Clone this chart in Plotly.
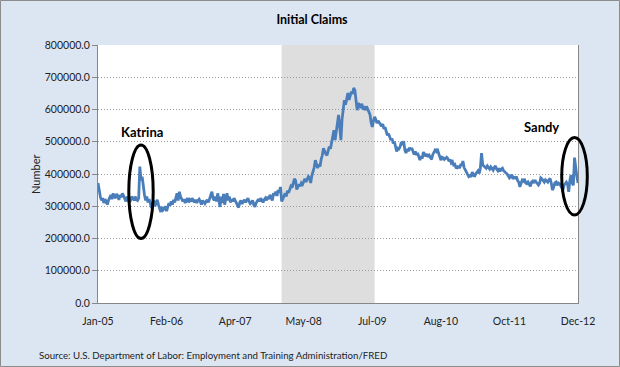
import pandas as pd
import plotly.graph_objects as go

# Weekly initial claims (thousands), week ending Saturday, Jan 1 2005 .. Dec 1 2012
claims_2005 = [372, 345, 330, 318, 325, 310, 322, 315, 305, 318, 328, 335, 322,
               340, 330, 325, 338, 332, 320, 335, 328, 340, 332, 325, 315, 330,
               322, 312, 318, 330, 325, 318, 330, 320, 318,
               325, 423, 380, 392, 360, 335, 318,
               330, 312, 322, 310, 295, 305, 318, 300, 310, 320, 305]
claims_2006 = [290, 282, 298, 288, 292, 300, 285, 298, 310, 302, 315, 305, 320,
               312, 325, 340, 318, 345, 330, 320, 315, 322, 310, 318, 325, 312,
               320, 315, 325, 318, 312, 320, 310, 318, 322, 315, 305, 318, 312,
               308, 315, 320, 312, 322, 330, 345, 325, 318, 330, 315, 340, 322]
claims_2007 = [298, 330, 310, 338, 305, 325, 340, 318, 330, 312, 322, 315, 325,
               318, 310, 305, 296, 312, 318, 308, 315, 320, 312, 318, 325, 315,
               308, 312, 318, 305, 298, 310, 318, 322, 315, 325, 318, 312, 320,
               325, 318, 330, 322, 335, 328, 318, 340, 335, 345, 332, 350, 342]
claims_2008 = [360, 315, 322, 335, 340, 330, 348, 342, 355, 362, 358, 370, 385,
               380, 352, 360, 368, 362, 372, 368, 378, 385, 375, 382, 392, 388,
               372, 395, 405, 420, 443, 425, 418, 430, 423, 445, 458, 480, 470,
               462, 458, 475, 485, 478, 500, 520, 536, 505, 530, 560, 583, 545]
claims_2009 = [505, 570, 600, 629, 615, 640, 651, 630, 645, 655, 648, 667, 660,
               615, 598, 620, 612, 605, 618, 600, 605, 598, 610, 600, 595, 585,
               560, 546, 565, 577, 570, 558, 565, 560, 552, 548, 555, 540, 545,
               530, 520, 525, 512, 505, 510, 495, 500, 488, 470, 480, 478, 485]
claims_2010 = [499, 490, 502, 475, 465, 478, 470, 482, 475, 481, 468, 460, 470,
               459, 465, 450, 443, 455, 448, 468, 460, 455, 462, 453, 458, 450,
               445, 460, 468, 474, 470, 478, 465, 455, 443, 452, 450, 445, 450,
               452, 448, 440, 445, 434, 438, 428, 430, 420, 419, 425, 418, 428]
claims_2011 = [428, 440, 420, 412, 405, 398, 392, 395, 391, 406, 398, 392, 400,
               405, 410, 402, 418, 465, 428, 425, 422, 418, 425, 420, 415, 422,
               418, 412, 420, 425, 415, 410, 418, 408, 415, 418, 410, 405, 403,
               400, 395, 388, 392, 398, 385, 390, 388, 392, 380, 375, 360, 375, 381]
claims_2012 = [378, 385, 372, 370, 375, 368, 362, 375, 378, 372, 381, 375, 368,
               366, 372, 388, 385, 380, 375, 382, 378, 375, 382, 386, 372, 350,
               358, 372, 375, 365, 372, 370, 365, 358, 350, 365, 372, 375, 368,
               345, 380, 397, 372, 365, 451, 415, 393, 372]

claims = [v * 1000 for v in (claims_2005 + claims_2006 + claims_2007 + claims_2008 +
                             claims_2009 + claims_2010 + claims_2011 + claims_2012)]
dates = pd.date_range("2005-01-01", periods=len(claims), freq="W-SAT")

tick_labels = ["Jan-05", "Feb-06", "Apr-07", "May-08", "Jul-09", "Aug-10", "Oct-11", "Dec-12"]
y_ticks = [0, 100000, 200000, 300000, 400000, 500000, 600000, 700000, 800000]
recession = ["2008-01-12", "2009-07-25"]
events = {"Katrina": ("2005-09-17", 200000, 490000, 21),
          "Sandy": ("2012-11-10", 273000, 513000, 22)}

W, H = 620, 367
ML, MR, MT, MB = 98, 42, 45, 64
PW, PH = W - ML - MR, H - MT - MB
start, end = dates[0], dates[-1]
span = end - start
tickvals = [start + span * i / (len(tick_labels) - 1) for i in range(len(tick_labels))]
YMAX = 800000

def xfrac(d):
    return (pd.Timestamp(d) - start) / span

FONT = "Lato"
fig = go.Figure()
fig.add_trace(go.Scatter(x=dates, y=claims, mode="lines",
                         line=dict(color="#4A7EBB", width=2.8), hoverinfo="skip"))

shapes = [
    dict(type="rect", xref="x", yref="paper", x0=recession[0], x1=recession[1],
         y0=0, y1=1, fillcolor="#DEDEDE", line=dict(width=0), layer="below"),
    dict(type="rect", xref="paper", yref="paper",
         x0=(0.5 - ML) / PW, x1=(W - 0.5 - ML) / PW,
         y0=-(MB - 0.5) / PH, y1=(PH + MT - 0.5) / PH,
         line=dict(color="#8C8C8C", width=1), fillcolor="rgba(0,0,0,0)"),
]
annotations = []
label_pos = {"Katrina": (142, 132), "Sandy": (541, 127)}
for name, (d, ylo, yhi, wk) in events.items():
    cx = xfrac(d)
    half = pd.Timedelta(weeks=wk / 2) / span
    shapes.append(dict(type="circle", xref="paper", yref="paper",
                       x0=cx - half, x1=cx + half, y0=ylo / YMAX, y1=yhi / YMAX,
                       line=dict(color="black", width=3)))
    lx, ly = label_pos[name]
    annotations.append(dict(text="<b>%s</b>" % name, xref="paper", yref="paper",
                            x=(lx - ML) / PW, y=(H - MB - ly) / PH, showarrow=False,
                            font=dict(family=FONT, size=13, color="black"),
                            xanchor="center", yanchor="middle"))

annotations.append(dict(text="Number", xref="paper", yref="paper",
                        x=(35 - ML) / PW, y=(H - MB - 175) / PH, textangle=-90,
                        showarrow=False, font=dict(family=FONT, size=11, color="#222"),
                        xanchor="center", yanchor="middle"))
annotations.append(dict(text="Source: U.S. Department of Labor: Employment and Training Administration/FRED",
                        xref="paper", yref="paper", x=(37 - ML) / PW, y=(H - MB - 355) / PH,
                        showarrow=False, font=dict(family=FONT, size=9.7, color="#222"),
                        xanchor="left", yanchor="middle"))

fig.update_layout(
    width=W, height=H, margin=dict(l=ML, r=MR, t=MT, b=MB, pad=0),
    paper_bgcolor="#DCE6F2", plot_bgcolor="white", showlegend=False,
    title=dict(text="<b>Initial Claims</b>", xref="container", yref="container",
               x=312 / W, y=1 - 20 / H, xanchor="center", yanchor="middle",
               font=dict(family=FONT, size=12.5, color="black")),
    shapes=shapes, annotations=annotations,
    xaxis=dict(type="date", range=[start, end], tickvals=tickvals, ticktext=tick_labels,
               showgrid=False, showline=True, linecolor="#868686", linewidth=1,
               ticks="", ticklabelstandoff=8, zeroline=False,
               tickfont=dict(family=FONT, size=10.5, color="#222")),
    yaxis=dict(range=[0, YMAX], tickvals=y_ticks, tickformat=".1f",
               showgrid=True, gridcolor="#9A9A9A", griddash="1px,2px", gridwidth=1,
               showline=True, mirror=True, linecolor="#868686", linewidth=1,
               ticks="outside", ticklen=5, tickcolor="#868686", zeroline=False,
               tickfont=dict(family=FONT, size=10.5, color="#222")),
)

fig.write_html("out.html", config={"displayModeBar": False},
               post_script="document.body.style.margin='0px';document.body.style.overflow='hidden';")
